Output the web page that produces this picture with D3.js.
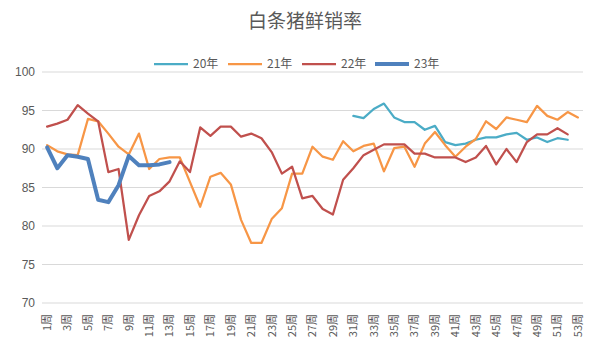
<!DOCTYPE html>
<html><head><meta charset="utf-8">
<script src="https://cdn.jsdelivr.net/npm/d3@7"></script>
<style>body{margin:0;background:#fff}</style>
</head><body>
<script>
const weeks = d3.range(1, 54).map(i => i + "周");
const yTicks = [70, 75, 80, 85, 90, 95, 100];
const seriesNames = ["20年", "21年", "22年", "23年"];
// null = no data
const s20 = [null,null,null,null,null,null,null,null,null,null,null,null,null,null,null,null,null,null,null,null,null,null,null,null,null,null,null,null,null,null,
  94.3,94.0,95.2,95.9,94.1,93.5,93.5,92.5,93.0,90.9,90.5,90.7,91.2,91.5,91.5,91.9,92.1,91.2,91.5,90.9,91.4,91.2,null];
const s21 = [90.5,89.7,89.3,89.2,93.9,93.6,92.0,90.3,89.3,92.0,87.4,88.7,88.9,88.9,85.7,82.5,86.4,86.9,85.4,80.8,77.8,77.8,80.9,82.3,86.8,86.8,
  90.3,89.0,88.6,91.0,89.7,90.4,90.7,87.1,90.1,90.3,87.7,90.7,92.2,90.5,89.0,90.3,91.3,93.6,92.6,94.1,93.8,93.5,95.6,94.3,93.8,94.8,94.1];
const s22 = [92.9,93.3,93.8,95.7,94.6,93.6,87.0,87.4,78.2,81.4,83.9,84.5,85.8,88.4,87.0,92.8,91.7,92.9,92.9,91.6,92.0,91.4,89.6,86.8,87.7,83.6,
  83.9,82.2,81.5,86.0,87.5,89.2,89.9,90.6,90.6,90.6,89.4,89.4,88.9,88.9,88.9,88.3,88.9,90.4,88.0,90.0,88.3,90.9,91.9,91.9,92.7,91.9,null];
const s23 = [90.2,87.5,89.2,89.0,88.7,83.4,83.1,85.3,89.1,87.9,87.9,88.0,88.3];
const colors = ["#4BACC6", "#F79646", "#C0504D", "#4F81BD"];
const widths = [2.25, 2.25, 2.25, 4];

const W = 600, H = 357;
const svg = d3.select("body").append("svg").attr("width", W).attr("height", H)
  .style("font-family", "'Noto Sans CJK SC','Noto Sans',sans-serif");

const x = d3.scaleBand().domain(weeks).range([42, 583]);
const y = d3.scaleLinear().domain([70, 100]).range([303, 72]);

svg.append("text").attr("x", 305).attr("y", 28).attr("text-anchor", "middle")
  .attr("font-size", 19).attr("fill", "#595959").text("白条猪鲜销率");

// grid
svg.append("g").selectAll("line").data(yTicks).join("line")
  .attr("x1", 42).attr("x2", 583).attr("y1", d => y(d)).attr("y2", d => y(d))
  .attr("stroke", "#D9D9D9").attr("stroke-width", 1);

// y axis labels
const ya = svg.append("g").attr("transform", "translate(42,0)")
  .call(d3.axisLeft(y).tickValues(yTicks).tickSize(0).tickPadding(7));
ya.select(".domain").remove();
ya.selectAll("text").attr("font-size", 12).attr("fill", "#595959")
  .style("font-family", "'Liberation Sans',Arial,sans-serif");

// x axis labels
const xa = svg.append("g").attr("transform", "translate(0,303)")
  .call(d3.axisBottom(x).tickValues(weeks.filter((d, i) => i % 2 === 0)).tickSize(0));
xa.select(".domain").remove();
xa.selectAll("text").attr("font-size", 11).attr("fill", "#595959")
  .attr("transform", "rotate(-90)").attr("text-anchor", "end")
  .attr("x", -11).attr("y", 0).attr("dy", "0.35em")
  .style("font-family", "'Noto Sans CJK SC',sans-serif");

const data = [s20, s21, s22, s23];
const line = d3.line().defined(d => d.v != null)
  .x(d => x(d.w) + x.bandwidth() / 2).y(d => y(d.v));
data.forEach((s, k) => {
  const pts = s.map((v, i) => ({ w: weeks[i], v }));
  svg.append("path").datum(pts).attr("d", line).attr("fill", "none")
    .attr("stroke", colors[k]).attr("stroke-width", widths[k])
    .attr("stroke-linejoin", "round").attr("stroke-linecap", "round");
});

// legend
const lx = [154, 228, 302, 375];
const lg = svg.append("g");
seriesNames.forEach((n, k) => {
  lg.append("line").attr("x1", lx[k]).attr("x2", lx[k] + 34).attr("y1", 64).attr("y2", 64)
    .attr("stroke", colors[k]).attr("stroke-width", widths[k]);
  lg.append("text").attr("x", lx[k] + 39).attr("y", 64).attr("dy", "0.35em")
    .attr("font-size", 12).attr("fill", "#595959").text(n);
});
</script>
</body></html>
